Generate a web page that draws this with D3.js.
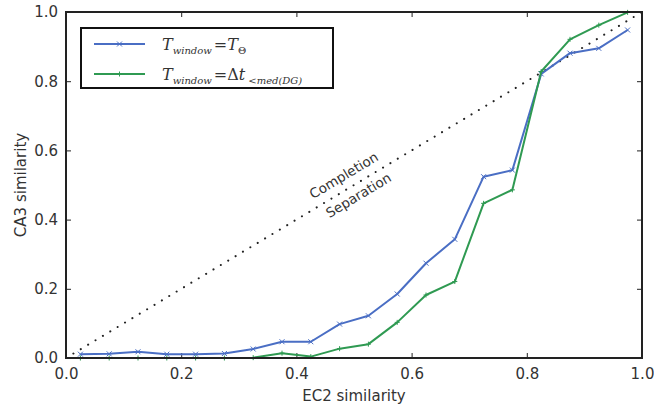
<!DOCTYPE html>
<html>
<head>
<meta charset="utf-8">
<script src="https://cdn.jsdelivr.net/npm/d3@7"></script>
<style>
  body { margin: 0; background: #fff; }
  text { font-family: "DejaVu Sans", sans-serif; fill: #333; }
</style>
</head>
<body>
<div id="wrapper"></div>
<script>
// bin centres on the EC2 axis
const ec2 = [0.025, 0.075, 0.125, 0.175, 0.225, 0.275, 0.325, 0.375, 0.425, 0.475,
             0.525, 0.575, 0.625, 0.675, 0.725, 0.775, 0.825, 0.875, 0.925, 0.975];
// T_window = T_theta
const ca3Theta = [0.011, 0.012, 0.018, 0.011, 0.011, 0.013, 0.026, 0.047, 0.047, 0.098,
                  0.122, 0.185, 0.274, 0.343, 0.524, 0.543, 0.821, 0.881, 0.895, 0.948];
// T_window = dt < med(DG)
const ca3Dt = [0.0, 0.0, 0.0, 0.0, 0.0, 0.0, 0.001, 0.014, 0.004, 0.027,
               0.040, 0.103, 0.182, 0.221, 0.447, 0.486, 0.828, 0.921, 0.962, 0.999];
const tickValues = [0, 0.2, 0.4, 0.6, 0.8, 1.0];

const width = 654;
const height = 407;
const margin = {left: 66, right: 12, top: 12, bottom: 49};

const svg = d3.select("#wrapper")
	.append("svg")
	.attr("width", width)
	.attr("height", height);

const xScale = d3.scaleLinear()
	.domain([0, 1])
	.range([margin.left, width - margin.right]);
const yScale = d3.scaleLinear()
	.domain([0, 1])
	.range([height - margin.bottom, margin.top]);

const x0 = xScale(0), x1 = xScale(1), y0 = yScale(0), y1 = yScale(1);

// ticks pointing inwards on all four sides (matplotlib classic)
const fmt = d3.format(".1f");
const axisStyle = function(g){
	g.select(".domain").remove();
	g.selectAll(".tick line").attr("stroke", "#222").attr("stroke-width", 1);
	g.selectAll(".tick text").style("font-size", "15px").attr("fill", "#333");
}
svg.append("g")
	.attr("transform", `translate(0,${y0})`)
	.call(d3.axisBottom(xScale).tickValues(tickValues).tickFormat(fmt).tickSizeInner(-5).tickPadding(10))
	.call(axisStyle);
svg.append("g")
	.attr("transform", `translate(0,${y1})`)
	.call(d3.axisTop(xScale).tickValues(tickValues).tickFormat("").tickSizeInner(-5))
	.call(axisStyle);
svg.append("g")
	.attr("transform", `translate(${x0},0)`)
	.call(d3.axisLeft(yScale).tickValues(tickValues).tickFormat(fmt).tickSizeInner(-5).tickPadding(8))
	.call(axisStyle);
svg.append("g")
	.attr("transform", `translate(${x1},0)`)
	.call(d3.axisRight(yScale).tickValues(tickValues).tickFormat("").tickSizeInner(-5))
	.call(axisStyle);

// diagonal
svg.append("line")
	.attr("x1", xScale(0)).attr("y1", yScale(0))
	.attr("x2", xScale(1)).attr("y2", yScale(1))
	.attr("stroke", "#222")
	.attr("stroke-width", 2)
	.attr("stroke-linecap", "round")
	.attr("stroke-dasharray", "0.1,8.5");

const angle = -Math.atan((y0 - y1) / (x1 - x0)) * 180 / Math.PI;
svg.append("text")
	.attr("transform", `translate(${xScale(0.49) - 2},${yScale(0.49) - 9}) rotate(${angle})`)
	.attr("text-anchor", "middle")
	.style("font-size", "13.5px")
	.text("Completion");
svg.append("text")
	.attr("transform", `translate(${xScale(0.505) + 4},${yScale(0.505) + 16}) rotate(${angle})`)
	.attr("text-anchor", "middle")
	.style("font-size", "13.5px")
	.text("Separation");

const series = [
	{vals: ca3Theta, color: "#4a6ec4", marker: "x"},
	{vals: ca3Dt, color: "#2f9a52", marker: "+"}
];

const line = d3.line()
	.x(function(d){ return xScale(d[0]); })
	.y(function(d){ return yScale(d[1]); });

function drawMarker(g, x, y, type, color){
	const s = 2.5;
	if(type == "x"){
		g.append("path").attr("d", `M${x-s},${y-s}L${x+s},${y+s}M${x-s},${y+s}L${x+s},${y-s}`)
			.attr("stroke", color).attr("stroke-width", 1);
	} else {
		g.append("path").attr("d", `M${x-s},${y}L${x+s},${y}M${x},${y-s}L${x},${y+s}`)
			.attr("stroke", color).attr("stroke-width", 1);
	}
}

series.forEach(function(s){
	const pts = ec2.map(function(x, i){ return [x, s.vals[i]]; });
	svg.append("path")
		.datum(pts)
		.attr("d", line)
		.attr("fill", "none")
		.attr("stroke", s.color)
		.attr("stroke-width", 2)
		.attr("stroke-linejoin", "round");
	const mg = svg.append("g");
	pts.forEach(function(p){
		drawMarker(mg, xScale(p[0]), yScale(p[1]), s.marker, s.color);
	});
});

// frame
svg.append("rect")
	.attr("x", x0).attr("y", y1)
	.attr("width", x1 - x0).attr("height", y0 - y1)
	.attr("fill", "none")
	.attr("stroke", "#222")
	.attr("stroke-width", 2);

// axis labels
svg.append("text")
	.attr("x", (x0 + x1) / 2).attr("y", 401)
	.attr("text-anchor", "middle")
	.style("font-size", "15px")
	.text("EC2 similarity");
svg.append("text")
	.attr("transform", `translate(26,${(y0 + y1) / 2}) rotate(-90)`)
	.attr("text-anchor", "middle")
	.style("font-size", "15px")
	.text("CA3 similarity");

// legend
const leg = svg.append("g");
leg.append("rect")
	.attr("x", 81).attr("y", 28)
	.attr("width", 252).attr("height", 60)
	.attr("fill", "#fff")
	.attr("stroke", "#111")
	.attr("stroke-width", 2);
const legRows = [
	{y: 44, color: series[0].color, marker: "x", sub: "window", rhs: "T", rsub: "Θ"},
	{y: 74, color: series[1].color, marker: "+", sub: "window", rhs: "Δt", rsub: "<med(DG)"}
];
legRows.forEach(function(r){
	leg.append("line")
		.attr("x1", 94).attr("x2", 145)
		.attr("y1", r.y).attr("y2", r.y)
		.attr("stroke", r.color).attr("stroke-width", 2);
	drawMarker(leg, 119.5, r.y, r.marker, r.color);
	const t = leg.append("text")
		.attr("x", 162).attr("y", r.y + 6)
		.style("font-family", "'DejaVu Serif', serif")
		.style("font-size", "16px")
		.attr("fill", "#222");
	t.append("tspan").style("font-style", "italic").text("T");
	t.append("tspan").style("font-style", "italic").style("font-size", "10px").attr("dy", 4).text(r.sub);
	t.append("tspan").attr("dy", -4).attr("dx", 2).text("=");
	t.append("tspan").style("font-style", r.rhs == "T" ? "italic" : "normal").text(r.rhs == "T" ? "T" : "Δ");
	if(r.rhs != "T") t.append("tspan").style("font-style", "italic").text("t");
	t.append("tspan").style("font-style", r.rhs == "T" ? "normal" : "italic").style("font-size", "10px").attr("dy", 4).attr("dx", r.rhs == "T" ? 0 : 3).text(r.rsub);
});
</script>
</body>
</html>
